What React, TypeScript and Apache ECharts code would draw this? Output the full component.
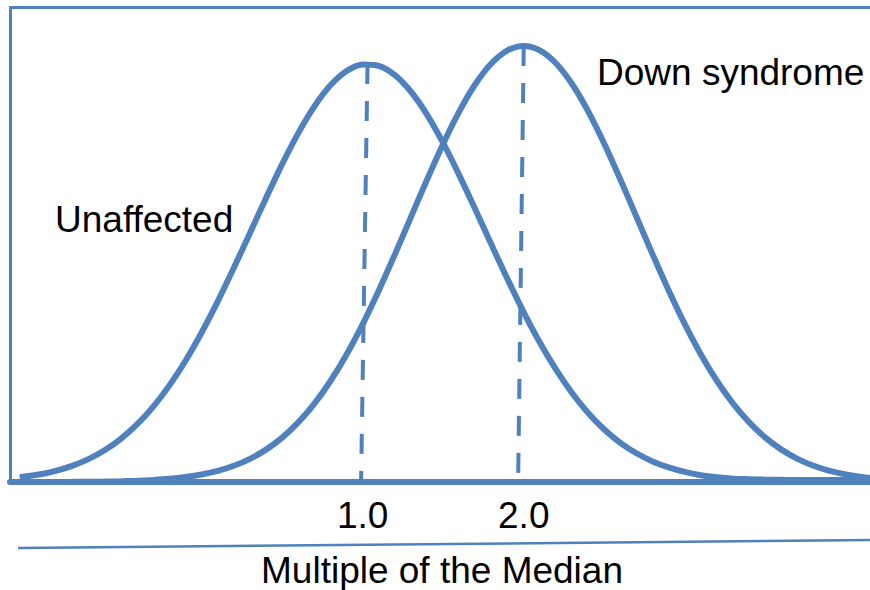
import React, { useEffect, useRef } from "react";
import * as echarts from "echarts";

// X in "multiple of the median" axis units, Y in relative frequency (0-100)
const sampleX = [
  -1.13, -1.0, -0.9, -0.8, -0.7, -0.6, -0.5, -0.4, -0.3, -0.2, -0.1,
  0.0, 0.1, 0.2, 0.3, 0.4, 0.5, 0.6, 0.7, 0.8, 0.9,
  1.0, 1.1, 1.2, 1.3, 1.4, 1.5, 1.6, 1.7, 1.8, 1.9,
  2.0, 2.1, 2.2, 2.3, 2.4, 2.5, 2.6, 2.7, 2.8, 2.9,
  3.0, 3.1, 3.2, 3.3, 3.4, 3.5, 3.6, 3.7, 3.8, 3.9,
  4.0, 4.1, 4.15,
];
const unaffectedY = [
  1.0, 1.64, 2.41, 3.46, 4.88, 6.75, 9.16, 12.19, 15.91, 20.38, 25.59,
  31.54, 38.12, 45.19, 52.54, 59.94, 67.07, 73.61, 79.25, 83.69, 86.7,
  88.1, 87.81, 85.85, 82.33, 77.46, 71.48, 64.7, 57.45, 50.03, 42.74,
  35.81, 29.44, 23.74, 18.78, 14.57, 11.09, 8.27, 6.06, 4.35, 3.07,
  2.12, 1.44, 1.0, 0.7, 0.6, 0.5, 0.45, 0.4, 0.4, 0.4,
  0.4, 0.4, 0.4,
];
const downY = [
  0.01, 0.01, 0.02, 0.03, 0.06, 0.1, 0.16, 0.26, 0.43, 0.67, 1.04,
  1.58, 2.35, 3.43, 4.89, 6.83, 9.36, 12.57, 16.53, 21.31, 26.92,
  33.32, 40.41, 48.03, 55.93, 63.82, 71.37, 78.2, 83.96, 88.34, 91.07,
  92.0, 91.07, 88.34, 83.96, 78.2, 71.37, 63.82, 55.93, 48.03, 40.41,
  33.32, 26.92, 21.31, 16.53, 12.57, 9.36, 6.83, 4.89, 3.43, 2.35,
  1.58, 1.04, 0.84,
];

// median markers: [top, bottom]
const unaffectedMedianX = [1.03, 0.99];
const unaffectedMedianY = [88.2, 0];
const downMedianX = [2.0, 1.965];
const downMedianY = [92.0, 0];

const tickValues = [1, 2];
const seriesLabels = ["Unaffected", "Down syndrome"];
const axisTitle = "Multiple of the Median";

const BLUE = "#4F81BD";
const FONT = "'Liberation Sans', Arial, sans-serif";

const zip = (xs: number[], ys: number[]) => xs.map((x, i) => [x, ys[i]]);

export default function App() {
  const ref = useRef<HTMLDivElement>(null);
  useEffect(() => {
    if (!ref.current) return;
    const chart = echarts.init(ref.current, undefined, { renderer: "svg" });
    chart.setOption({
      animation: false,
      backgroundColor: "#ffffff",
      grid: { left: 10, right: 0, top: 8, bottom: 108 },
      xAxis: {
        type: "value",
        min: -1.19,
        max: 4.15,
        axisLine: { show: true, onZero: false, lineStyle: { color: BLUE, width: 6 } },
        axisTick: { show: false },
        splitLine: { show: false },
        axisLabel: {
          customValues: tickValues,
          formatter: (v: number) => v.toFixed(1),
          color: "#000",
          fontSize: 37,
          fontFamily: FONT,
          verticalAlign: "middle",
          margin: 33,
        },
      },
      yAxis: {
        type: "value",
        min: 0,
        max: 100,
        axisLine: { show: true, onZero: false, lineStyle: { color: BLUE, width: 3 } },
        axisTick: { show: false },
        axisLabel: { show: false },
        splitLine: { show: false },
      },
      series: [
        {
          type: "line",
          name: seriesLabels[0],
          data: zip(sampleX, unaffectedY),
          smooth: 0.3,
          showSymbol: false,
          symbol: "none",
          lineStyle: { color: BLUE, width: 6 },
          z: 3,
        },
        {
          type: "line",
          name: seriesLabels[1],
          data: zip(sampleX, downY),
          smooth: 0.3,
          showSymbol: false,
          symbol: "none",
          lineStyle: { color: BLUE, width: 6 },
          z: 3,
        },
        {
          type: "line",
          data: zip(unaffectedMedianX, unaffectedMedianY),
          symbol: "none",
          lineStyle: { color: BLUE, width: 4, type: [20, 17] },
          z: 2,
        },
        {
          type: "line",
          data: zip(downMedianX, downMedianY),
          symbol: "none",
          lineStyle: { color: BLUE, width: 4, type: [20, 17] },
          z: 2,
        },
      ],
      graphic: [
        {
          type: "line",
          shape: { x1: 9, y1: 7.5, x2: 870, y2: 7.5 },
          style: { stroke: BLUE, lineWidth: 3 },
        },
        {
          type: "line",
          shape: { x1: 18, y1: 548, x2: 870, y2: 540 },
          style: { stroke: BLUE, lineWidth: 2.5 },
        },
        {
          type: "text",
          x: 55,
          y: 219,
          style: {
            text: seriesLabels[0],
            fill: "#000",
            font: `37px ${FONT}`,
            verticalAlign: "middle",
            align: "left",
          },
        },
        {
          type: "text",
          x: 597,
          y: 72,
          style: {
            text: seriesLabels[1],
            fill: "#000",
            font: `37px ${FONT}`,
            verticalAlign: "middle",
            align: "left",
          },
        },
        {
          type: "text",
          x: 442,
          y: 570,
          style: {
            text: axisTitle,
            fill: "#000",
            font: `37px ${FONT}`,
            verticalAlign: "middle",
            align: "center",
          },
        },
      ],
    });
    return () => chart.dispose();
  }, []);
  return (
    <div
      ref={ref}
      style={{ position: "fixed", left: 0, top: 0, width: 870, height: 590 }}
    />
  );
}
